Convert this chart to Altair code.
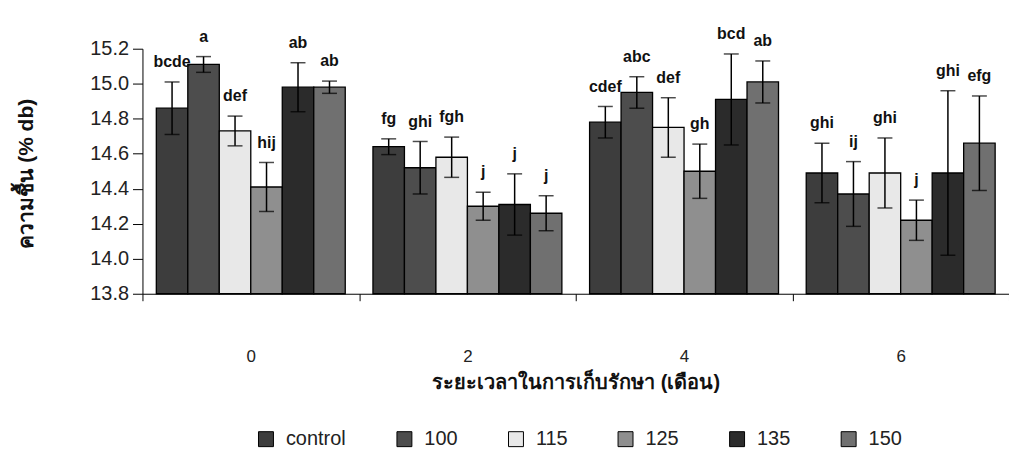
import altair as alt
import pandas as pd

times = ["0", "2", "4", "6"]
treatments = ["control", "100", "115", "125", "135", "150"]

mean_0 = [14.86, 15.11, 14.73, 14.41, 14.98, 14.98]
mean_2 = [14.64, 14.52, 14.58, 14.30, 14.31, 14.26]
mean_4 = [14.78, 14.95, 14.75, 14.50, 14.91, 15.01]
mean_6 = [14.49, 14.37, 14.49, 14.22, 14.49, 14.66]

err_0 = [0.15, 0.045, 0.085, 0.14, 0.14, 0.035]
err_2 = [0.045, 0.15, 0.115, 0.08, 0.175, 0.10]
err_4 = [0.09, 0.09, 0.17, 0.155, 0.26, 0.12]
err_6 = [0.17, 0.185, 0.20, 0.115, 0.47, 0.27]

letters_0 = ["bcde", "a", "def", "hij", "ab", "ab"]
letters_2 = ["fg", "ghi", "fgh", "j", "j", "j"]
letters_4 = ["cdef", "abc", "def", "gh", "bcd", "ab"]
letters_6 = ["ghi", "ij", "ghi", "j", "ghi", "efg"]

y_ticks = [13.8, 14.0, 14.2, 14.4, 14.6, 14.8, 15.0, 15.2]
colors = ["#3d3d3d", "#4d4d4d", "#e8e8e8", "#8f8f8f", "#2b2b2b", "#707070"]

means = [mean_0, mean_2, mean_4, mean_6]
errs = [err_0, err_2, err_4, err_6]
letters = [letters_0, letters_2, letters_4, letters_6]

rows = []
for ti, t in enumerate(times):
    for k, tr in enumerate(treatments):
        m = means[ti][k]
        e = errs[ti][k]
        rows.append({"time": t, "treatment": tr, "mean": m,
                     "lo": m - e, "hi": m + e, "letter": letters[ti][k]})
df = pd.DataFrame(rows)

FONT = "Liberation Sans"

base = alt.Chart(df).encode(
    x=alt.X("time:N", sort=times,
            scale=alt.Scale(domain=times, paddingInner=0, paddingOuter=0),
            axis=alt.Axis(title="ระยะเวลาในการเก็บรักษา (เดือน)", labelAngle=0,
                          tickBand="extent", tickSize=7, labelPadding=56,
                          labelBaseline="middle", labelFontSize=17,
                          titleY=89, titleBaseline="middle", titleFontSize=20,
                          titleFontWeight="bold")),
    xOffset=alt.XOffset("treatment:N", sort=treatments,
                        scale=alt.Scale(domain=treatments, paddingInner=0, paddingOuter=0.44)),
)

yscale = alt.Scale(domain=[13.8, 15.2], zero=False, nice=False)


def yaxis():
    return alt.Axis(title="ความชื้น (% db)", values=y_ticks, format=".1f",
                    tickSize=10, labelPadding=4, labelFontSize=20, labelOverlap=False,
                    titleX=-116, titleY=125, titleAngle=270,
                    titleAlign="center", titleBaseline="middle",
                    titleFontSize=21, titleFontWeight="bold")


bars = base.mark_bar(stroke="black", strokeWidth=1.3).encode(
    y=alt.Y("mean:Q", scale=yscale, axis=yaxis()),
    y2=alt.datum(13.8),
    color=alt.Color("treatment:N", sort=treatments,
                    scale=alt.Scale(domain=treatments, range=colors),
                    legend=alt.Legend(title=None, orient="none", legendX=114, legendY=382,
                                      direction="horizontal", symbolType="square",
                                      symbolSize=225, symbolStrokeColor="black",
                                      symbolStrokeWidth=1, symbolOpacity=1,
                                      labelFontSize=20, labelOffset=10,
                                      columnPadding=48, padding=0,
                                      labelColor="#222222", labelFont=FONT)),
)

rules = base.mark_rule(color="black", strokeWidth=1.5).encode(
    y=alt.Y("lo:Q", scale=yscale, axis=yaxis()), y2="hi:Q")
cap_top = base.mark_tick(color="black", thickness=1.5, size=15).encode(
    y=alt.Y("hi:Q", scale=yscale, axis=yaxis()))
cap_bot = base.mark_tick(color="black", thickness=1.5, size=15).encode(
    y=alt.Y("lo:Q", scale=yscale, axis=yaxis()))
labels = base.mark_text(dy=-20, fontWeight="bold", fontSize=16, font=FONT,
                        baseline="middle", color="#111111").encode(
    y=alt.Y("hi:Q", scale=yscale, axis=yaxis()), text="letter:N")

chart = alt.layer(bars, rules, cap_top, cap_bot, labels).properties(
    width=870, height=246,
    padding={"left": 135, "top": 40, "right": 0, "bottom": 155},
    autosize=alt.AutoSizeParams(type="none"),
    background="white",
).configure_view(stroke=None).configure_axis(
    grid=False, domainColor="black", tickColor="black", labelColor="#222222",
    titleColor="#111111", labelFont=FONT, titleFont=FONT, domainWidth=1, tickWidth=1,
)

chart.save("out.html", embed_options={"renderer": "svg", "actions": False})
